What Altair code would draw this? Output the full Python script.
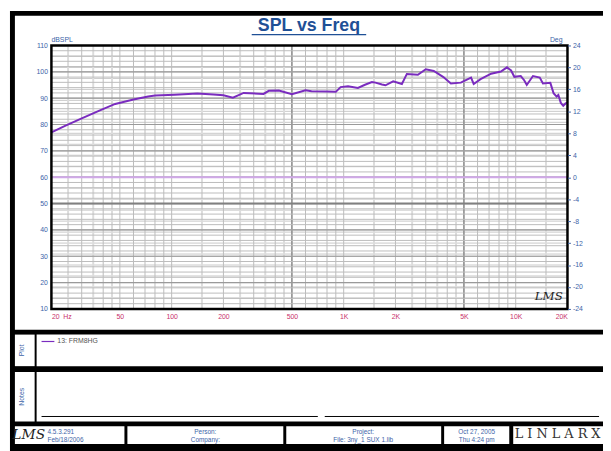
import altair as alt
import pandas as pd

# ---------------- data ----------------
freq_hz = [20, 24, 30, 38, 47, 60, 73, 80, 104, 141, 175, 200, 227, 262, 342, 367, 420, 500,
           600, 650, 800, 900, 960, 1060, 1210, 1330, 1460, 1530, 1670, 1750, 1940, 2180, 2330,
           2700, 3000, 3340, 3800, 4200, 4800, 5500, 5700, 6250, 7200, 8200, 8900, 9400, 9820,
           10700, 11200, 11600, 12600, 13800, 14400, 15900, 16600, 17300, 17700, 18300, 18900,
           19500, 20000]
spl_db = [77.0, 79.5, 82.3, 85.3, 87.8, 89.5, 90.6, 91.0, 91.3, 91.8, 91.4, 91.1, 90.2, 92.0,
          91.6, 92.8, 92.9, 91.5, 93.0, 92.6, 92.5, 92.4, 94.2, 94.5, 93.9, 95.1, 96.1, 95.9,
          95.2, 94.9, 96.4, 95.4, 99.2, 98.9, 101.0, 100.3, 98.0, 95.6, 95.9, 97.8, 95.4, 97.2,
          99.3, 100.1, 101.7, 100.5, 98.1, 98.4, 96.8, 95.0, 98.4, 97.8, 95.6, 95.8, 91.9, 90.6,
          91.2, 88.2, 87.1, 88.0, 88.3]

x_tick_values = [20, 50, 100, 200, 500, 1000, 2000, 5000, 10000, 20000]
x_tick_labels = ["20", "50", "100", "200", "500", "1K", "2K", "5K", "10K", "20K"]
db_ticks = list(range(10, 111, 10))
deg_ticks = list(range(-24, 25, 4))

grid_main = [m * d for d in (10, 100, 1000, 10000) for m in range(1, 10) if 20 <= m * d <= 20000]
grid_half = [m * d for d in (10, 100, 1000, 10000) for m in (1.5, 2.5, 3.5, 4.5) if 20 <= m * d <= 20000]
grid_dark = [500, 5000]
db_minor = list(range(10, 111, 2))
deg_minor = list(range(-24, 25, 2))

legend_name = "13: FRM8HG"
title_text = "SPL vs Freq"

# ---------------- layout helpers ----------------
W, H = 523, 267
OX, OY = 52, 43


def px(X):
    return X - OX


def py(Y):
    return Y - OY


one = pd.DataFrame({"k": [0]})
BLUE = "#3c64a8"
FONT = "Liberation Sans"


def rect(x0, y0, x1, y1, color):
    return alt.Chart(one).mark_rect(color=color, strokeWidth=0).encode(
        x=alt.value(px(x0)), x2=alt.value(px(x1)), y=alt.value(py(y0)), y2=alt.value(py(y1)))


def hline(x0, x1, y, color, w=1.0):
    return alt.Chart(one).mark_rule(color=color, strokeWidth=w).encode(
        x=alt.value(px(x0)), x2=alt.value(px(x1)), y=alt.value(py(y)))


def txt(X, Y, s, size=7, color=BLUE, align="left", angle=0, weight="normal",
        font=FONT, style="normal"):
    return alt.Chart(one).mark_text(text=s, fontSize=size, color=color, align=align,
                                    angle=angle, fontWeight=weight, font=font,
                                    fontStyle=style, baseline="middle").encode(
        x=alt.value(px(X)), y=alt.value(py(Y)))


# ---------------- scales / axes ----------------
label_expr = "{" + ",".join(f"'{v}':'{l}'" for v, l in zip(x_tick_values, x_tick_labels)) + "}[datum.value]"
x_scale = alt.Scale(type="log", domain=[20, 20000], nice=False)
x_axis = alt.Axis(orient="bottom", values=x_tick_values, labelExpr=label_expr, grid=False,
                  domain=False, ticks=False, labelColor="#c8306a", labelFontSize=7,
                  labelFont=FONT, labelPadding=4, labelOverlap=False, title=None, zindex=2)
y_scale = alt.Scale(domain=[10, 110], nice=False, zero=False)
y_axis = alt.Axis(orient="left", values=db_ticks, grid=False, domain=False, ticks=False,
                  labelColor=BLUE, labelFontSize=7, labelFont=FONT, labelPadding=4, title=None,
                  zindex=2)
deg_scale = alt.Scale(domain=[-24, 24], nice=False, zero=False)
deg_axis = alt.Axis(orient="right", values=deg_ticks, grid=False, domain=False, ticks=True,
                    tickSize=3, tickColor=BLUE, labelColor=BLUE, labelFontSize=7,
                    labelFont=FONT, labelPadding=2, title=None, zindex=2,
                    labelExpr="'' + datum.value")

# ---------------- background / frames ----------------
bg = [
    rect(10, 8, 620, 460, "black"),
    rect(15, 13, 620, 331, "white"),
    rect(15, 336, 35, 368, "white"),
    rect(37, 336, 620, 368, "white"),
    rect(15, 374, 35, 424, "white"),
    rect(37, 374, 620, 424, "white"),
    rect(15, 429, 126, 447, "white"),
    rect(129, 429, 287, 447, "white"),
    rect(290, 429, 447, 447, "white"),
    rect(450, 429, 516, 447, "white"),
    rect(520, 429, 620, 447, "white"),
]

# ---------------- grid ----------------
vgrid_main = alt.Chart(pd.DataFrame({"f": grid_main})).mark_rule(color="#bcbcbc", strokeWidth=1).encode(
    x=alt.X("f:Q", scale=x_scale, axis=x_axis))
vgrid_half = alt.Chart(pd.DataFrame({"f": grid_half})).mark_rule(color="#dcdcdc", strokeWidth=2).encode(
    x=alt.X("f:Q", scale=x_scale, axis=x_axis))
vgrid_dark = alt.Chart(pd.DataFrame({"f": grid_dark})).mark_rule(color="#909090", strokeWidth=1.5).encode(
    x=alt.X("f:Q", scale=x_scale, axis=x_axis))

deg_grid = alt.Chart(pd.DataFrame({"d": deg_minor})).mark_rule(color="#c8c8c8", strokeWidth=1).encode(
    y=alt.Y("d:Q", scale=deg_scale, axis=deg_axis))

hgrid_minor = alt.Chart(pd.DataFrame({"v": db_minor})).mark_rule(color="#bcbcbc", strokeWidth=1).encode(
    y=alt.Y("v:Q", scale=y_scale, axis=y_axis))
hgrid_major = alt.Chart(pd.DataFrame({"v": db_ticks})).mark_rule(color="#9a9a9a", strokeWidth=1.2).encode(
    y=alt.Y("v:Q", scale=y_scale, axis=y_axis))
hgrid_50 = alt.Chart(pd.DataFrame({"v": [50]})).mark_rule(color="#808080", strokeWidth=2).encode(
    y=alt.Y("v:Q", scale=y_scale, axis=y_axis))
zero_line = alt.Chart(pd.DataFrame({"v": [60]})).mark_rule(color="#d0a8e8", strokeWidth=2).encode(
    y=alt.Y("v:Q", scale=y_scale, axis=y_axis))

curve = alt.Chart(pd.DataFrame({"f": freq_hz, "spl": spl_db})).mark_line(
    color="#7a2cbf", strokeWidth=2).encode(
    x=alt.X("f:Q", scale=x_scale, axis=x_axis),
    y=alt.Y("spl:Q", scale=y_scale, axis=y_axis))

border = alt.Chart(one).mark_rect(filled=False, stroke="black", strokeWidth=2.5).encode(
    x=alt.value(0), x2=alt.value(W), y=alt.value(0), y2=alt.value(H))

db_group = alt.layer(vgrid_half, vgrid_main, vgrid_dark, hgrid_minor, hgrid_major, hgrid_50,
                     zero_line, curve)

# ---------------- texts ----------------
deco = [
    border,
    txt(313, 23, title_text, size=18, color="#1f5096", align="center", weight="bold"),
    hline(255, 371, 32, "#1f5096", 1.5),
    txt(52, 37, "dBSPL", size=7),
    txt(570, 37, "Deg", size=7, align="right"),
    txt(64, 318, "Hz", size=7, color="#c8306a"),
    txt(556, 297, "LMS", size=12, color="#222222", align="center", font="DejaVu Serif", style="italic"),
    # legend panel
    hline(42, 55, 343, "#7a2cbf", 1.2),
    txt(58, 343, legend_name, size=7, color="#555555"),
    txt(22, 352, "Plot", size=7, angle=270, align="center"),
    # notes panel
    txt(22, 399, "Notes", size=7, angle=270, align="center"),
    hline(42, 322, 419, "black", 1),
    hline(329, 607, 419, "black", 1),
    # footer
    txt(29, 438, "LMS", size=14, color="#222222", align="center", font="DejaVu Serif", style="italic"),
    txt(48, 435, "4.5.3.291", size=6.5),
    txt(48, 443, "Feb/18/2006", size=6.5),
    txt(208, 435, "Person:", size=6.5, align="center"),
    txt(208, 443, "Company:", size=6.5, align="center"),
    txt(368, 435, "Project:", size=6.5, align="center"),
    txt(368, 443, "File: 3ny_1 SUX 1.lib", size=6.5, align="center"),
    txt(483, 435, "Oct 27, 2005", size=6.5, align="center"),
    txt(483, 443, "Thu  4:24 pm", size=6.5, align="center"),
    txt(565, 437, "L I N L A R X", size=13, color="#333333", align="center", font="DejaVu Serif"),
]

chart = alt.layer(*bg, deg_grid, db_group, *deco).resolve_scale(y="independent").properties(
    width=W, height=H,
    autosize=alt.AutoSizeParams(type="none"),
    padding={"left": 44, "top": 35, "right": 36, "bottom": 141},
    background="white",
).configure_view(stroke=None)

chart.save("out.html", embed_options={"renderer": "svg", "actions": False})
